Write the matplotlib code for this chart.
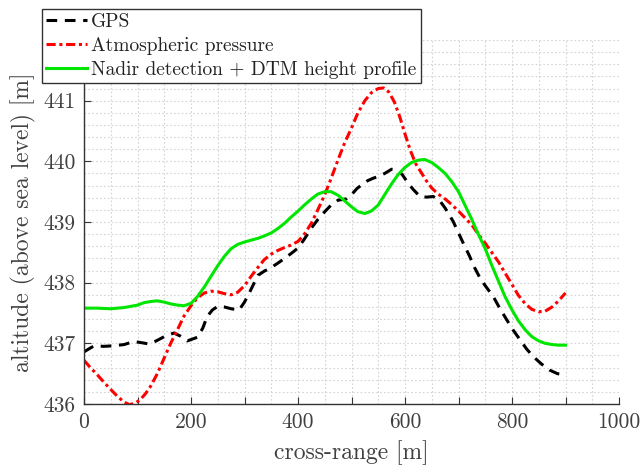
import matplotlib
matplotlib.use("Agg")
import matplotlib.pyplot as plt
from matplotlib.ticker import MultipleLocator, FuncFormatter

plt.rcParams['font.family'] = ['cmr10', 'DejaVu Serif']
plt.rcParams['mathtext.fontset'] = 'cm'
plt.rcParams['axes.formatter.use_mathtext'] = True
plt.rcParams['axes.unicode_minus'] = False

# GPS
gps_x = [0, 19, 37, 56, 75, 93, 108, 121, 135, 150, 168, 180, 193, 212, 222, 230, 240,
         250, 262, 275, 290, 300, 310, 325, 337, 350, 362, 375, 387, 400, 412, 425, 437,
         450, 462, 475, 490, 500, 510, 520, 530, 540, 550, 562, 575, 585, 595, 605, 615,
         628, 640, 653, 665, 675, 690, 700, 710, 720, 730, 740, 750, 765, 777, 790, 802,
         815, 827, 840, 855, 870, 885, 900]
gps_y = [436.86, 436.96, 436.95, 436.96, 436.98, 437.03, 437.01, 436.99, 437.04, 437.11,
         437.17, 437.12, 437.04, 437.10, 437.25, 437.44, 437.55, 437.61, 437.60, 437.57,
         437.55, 437.68, 437.85, 438.12, 438.19, 438.25, 438.32, 438.40, 438.48, 438.57,
         438.72, 438.90, 439.04, 439.17, 439.28, 439.36, 439.38, 439.45, 439.55, 439.62,
         439.68, 439.72, 439.75, 439.80, 439.87, 439.86, 439.78, 439.65, 439.54, 439.42,
         439.41, 439.42, 439.35, 439.23, 439.01, 438.82, 438.63, 438.45, 438.25, 438.08,
         437.95, 437.77, 437.58, 437.39, 437.22, 437.06, 436.91, 436.78, 436.66, 436.56,
         436.50, 436.48]

# Atmospheric pressure
atm_x = [0, 12, 25, 37, 50, 62, 75, 85, 95, 105, 115, 125, 137, 150, 162, 175, 187, 200,
         212, 225, 237, 250, 262, 275, 287, 300, 312, 325, 337, 350, 362, 375, 387, 400,
         412, 425, 437, 450, 462, 475, 487, 500, 512, 525, 537, 550, 560, 570, 580, 590,
         600, 610, 620, 630, 640, 650, 662, 675, 687, 700, 712, 725, 737, 750, 762, 775,
         787, 800, 812, 825, 837, 850, 862, 875, 887, 900]
atm_y = [436.72, 436.60, 436.48, 436.36, 436.24, 436.13, 436.03, 435.99, 436.01, 436.07,
         436.17, 436.30, 436.50, 436.76, 437.00, 437.23, 437.45, 437.62, 437.75, 437.83,
         437.86, 437.85, 437.82, 437.80, 437.84, 437.95, 438.10, 438.25, 438.38, 438.47,
         438.53, 438.58, 438.62, 438.68, 438.80, 438.98, 439.20, 439.45, 439.72, 440.03,
         440.30, 440.55, 440.80, 441.00, 441.13, 441.20, 441.21, 441.14, 440.98, 440.74,
         440.45, 440.18, 439.96, 439.82, 439.68, 439.56, 439.46, 439.38, 439.29, 439.18,
         439.07, 438.95, 438.80, 438.65, 438.50, 438.34, 438.16, 437.97, 437.79, 437.65,
         437.56, 437.52, 437.53, 437.60, 437.70, 437.83]

# Nadir detection + DTM height profile
dtm_x = [0, 25, 50, 75, 100, 112, 125, 137, 150, 162, 175, 187, 200, 212, 225, 237, 250,
         262, 275, 287, 300, 312, 325, 337, 350, 362, 375, 387, 400, 412, 425, 437, 450,
         462, 475, 487, 500, 512, 525, 537, 550, 562, 575, 587, 600, 612, 625, 637, 650,
         662, 675, 687, 700, 712, 725, 737, 750, 762, 775, 787, 800, 812, 825, 837, 850,
         862, 875, 887, 900]
dtm_y = [437.58, 437.58, 437.57, 437.59, 437.63, 437.67, 437.69, 437.70, 437.68, 437.65,
         437.63, 437.62, 437.66, 437.77, 437.93, 438.10, 438.28, 438.43, 438.56, 438.63,
         438.67, 438.70, 438.73, 438.77, 438.82, 438.89, 438.98, 439.08, 439.18, 439.28,
         439.38, 439.46, 439.50, 439.50, 439.44, 439.35, 439.25, 439.17, 439.14, 439.18,
         439.28, 439.45, 439.63, 439.78, 439.90, 439.98, 440.02, 440.03, 439.98, 439.90,
         439.80, 439.67, 439.50, 439.28, 439.04, 438.80, 438.56, 438.29, 438.02, 437.77,
         437.55, 437.37, 437.22, 437.11, 437.04, 437.00, 436.98, 436.97, 436.97]

labels = ["GPS", "Atmospheric pressure", "Nadir detection + DTM height profile"]

fig = plt.figure(figsize=(6.41, 4.68), dpi=100)
ax = fig.add_axes([84/641, 1-404/468, (619-84)/641, (404-40)/468])

ax.plot(gps_x, gps_y, color='black', lw=2.2, ls=(0, (3.5, 2.5)), label=labels[0])
ax.plot(atm_x, atm_y, color='#ff0000', lw=2.2, ls=(0, (3, 1.2, 1, 1.2)), label=labels[1])
ax.plot(dtm_x, dtm_y, color='#00e600', lw=2.2, ls='-', label=labels[2])

ax.set_xlim(0, 1000)
ax.set_ylim(436, 442)

ax.xaxis.set_major_locator(MultipleLocator(100))
ax.xaxis.set_major_formatter(FuncFormatter(lambda v, p: f"{int(round(v))}" if int(round(v)) % 200 == 0 else ""))
ax.xaxis.set_minor_locator(MultipleLocator(50))
ax.yaxis.set_major_locator(MultipleLocator(1))
ax.yaxis.set_major_formatter(FuncFormatter(lambda v, p: f"{int(round(v))}" if v < 441.5 else ""))
ax.yaxis.set_minor_locator(MultipleLocator(0.2))

ax.grid(True, which='both', color='#d4d4d4', ls=(0, (1.5, 2)), lw=0.8)
ax.set_axisbelow(True)

for s in ['top', 'right']:
    ax.spines[s].set_visible(False)
for s in ['left', 'bottom']:
    ax.spines[s].set_color('#333333')
    ax.spines[s].set_linewidth(1.0)

ax.tick_params(which='major', direction='in', length=5, width=0.8, color='#333333',
               labelsize=15.5, labelcolor='#404040', pad=6)
ax.tick_params(which='minor', length=0)

ax.set_xlabel("cross-range [m]", fontsize=17, color='#404040', labelpad=6)
ax.set_ylabel("altitude (above sea level) [m]", fontsize=17, color='#404040', labelpad=5)

leg = fig.legend(loc='upper left', bbox_to_anchor=(42/641, 1-9/468), borderaxespad=0,
                 fontsize=14, frameon=True, fancybox=False, framealpha=1,
                 edgecolor='#333333', handlelength=2.1, handletextpad=0.2,
                 labelspacing=0.3, borderpad=0.22)
leg.get_frame().set_linewidth(1.0)
for t in leg.get_texts():
    t.set_color('#222222')

fig.savefig("out.png", dpi=100)
